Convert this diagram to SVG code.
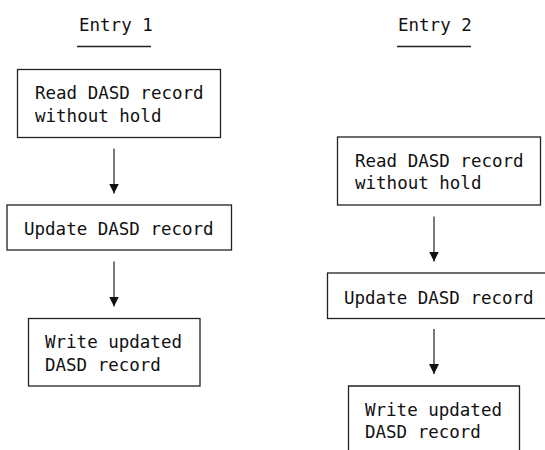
<svg xmlns="http://www.w3.org/2000/svg" width="545" height="450" viewBox="0 0 545 450">
  <defs>
    <marker id="head" markerUnits="userSpaceOnUse" markerWidth="10" markerHeight="10" refX="10" refY="5" orient="auto">
      <path d="M0,0 L10,5 L0,10 Z" fill="#111"/>
    </marker>
    <style>
      text { font-family: "DejaVu Sans Mono", "Liberation Mono", monospace; font-size: 17.5px; fill: #111; }
      .box { fill: #fff; stroke: #222; stroke-width: 1.3; }
      .rule { stroke: #222; stroke-width: 1.3; }
      .flow { stroke: #333; stroke-width: 1.3; fill: none; marker-end: url(#head); }
    </style>
  </defs>
  <rect width="545" height="450" fill="#fff"/>

  <!-- column headings -->
  <g id="heading-1">
    <text x="79" y="30.5">Entry 1</text>
    <line class="rule" x1="77" y1="46.5" x2="151" y2="46.5"/>
  </g>
  <g id="heading-2">
    <text x="398" y="30.5">Entry 2</text>
    <line class="rule" x1="397" y1="46.5" x2="471" y2="46.5"/>
  </g>

  <!-- left sequence -->
  <g id="read-1">
    <rect class="box" x="17.5" y="69.5" width="203" height="68"/>
    <text x="35" y="98.5">Read DASD record</text>
    <text x="35" y="121.5">without hold</text>
  </g>
  <g id="update-1">
    <rect class="box" x="7" y="205" width="224.5" height="45"/>
    <text x="24" y="235">Update DASD record</text>
  </g>
  <g id="write-1">
    <rect class="box" x="28.5" y="318.5" width="171.5" height="67.5"/>
    <text x="45" y="348">Write updated</text>
    <text x="45" y="370.5">DASD record</text>
  </g>

  <!-- right sequence -->
  <g id="read-2">
    <rect class="box" x="337.5" y="137" width="203" height="68"/>
    <text x="355" y="166.5">Read DASD record</text>
    <text x="355" y="189">without hold</text>
  </g>
  <g id="update-2">
    <rect class="box" x="327.5" y="273" width="230" height="45.5"/>
    <text x="344" y="303.5">Update DASD record</text>
  </g>
  <g id="write-2">
    <path class="box" d="M348.5,455 V386 H519.5 V455"/>
    <text x="365" y="416">Write updated</text>
    <text x="365" y="437.5">DASD record</text>
  </g>

  <!-- connectors -->
  <g id="connectors">
    <line class="flow" x1="114" y1="148.5" x2="114" y2="193.5"/>
    <line class="flow" x1="114" y1="261.5" x2="114" y2="306.5"/>
    <line class="flow" x1="434" y1="216.5" x2="434" y2="261.5"/>
    <line class="flow" x1="434" y1="329" x2="434" y2="374"/>
  </g>
</svg>
